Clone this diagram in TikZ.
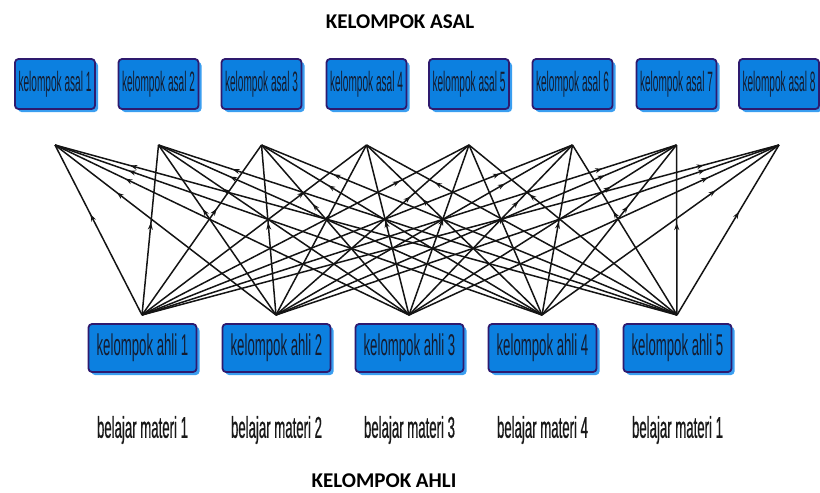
\documentclass[tikz,border=0pt]{standalone}
\usepackage{fontspec}
\usetikzlibrary{arrows.meta,decorations.markings,shadows}
\setmainfont{Carlito}
\newfontfamily\narrowA[FakeStretch=0.36]{Liberation Sans}
\newfontfamily\narrowB[FakeStretch=0.44]{Liberation Sans}
\newfontfamily\narrowC[FakeStretch=0.44,FakeBold=0.6]{Liberation Sans}
\definecolor{boxblue}{HTML}{0C80E0}
\definecolor{boxedge}{HTML}{2E1A6E}
\definecolor{shadowblue}{HTML}{3A9EF0}
\definecolor{boxtext}{HTML}{141C30}
\definecolor{linkcol}{HTML}{141414}
\tikzset{
  asalbox/.style={draw=boxedge, line width=1.8pt, fill=boxblue, rounded corners=3.5pt,
    minimum width=80pt, minimum height=50pt, inner sep=0pt, text=boxtext,
    font=\narrowA\fontsize{28}{28}\selectfont,
    drop shadow={shadow xshift=3pt, shadow yshift=-3pt, fill=shadowblue, opacity=1}},
  ahlibox/.style={draw=boxedge, line width=1.8pt, fill=boxblue, rounded corners=3.5pt,
    minimum width=108pt, minimum height=48pt, inner sep=0pt, text=boxtext,
    font=\narrowB\fontsize{30}{30}\selectfont,
    drop shadow={shadow xshift=3pt, shadow yshift=-3pt, fill=shadowblue, opacity=1}},
  materi/.style={text=black!90, font=\narrowC\fontsize{30}{30}\selectfont},
  title/.style={font=\bfseries\fontsize{21}{21}\selectfont, text=black},
  link/.style={draw=linkcol, line width=1.5pt,
    postaction={decorate, decoration={markings,
      mark=at position -78pt with {\arrow{Stealth[length=7pt,width=5pt]}}}}},
}
\begin{document}
\begin{tikzpicture}[x=1pt,y=-1pt]
\useasboundingbox (0,0) rectangle (820,493);
\node[title] (t1) at (400,22) {KELOMPOK ASAL};
\node[title] (t2) at (384,481) {KELOMPOK AHLI};
% top boxes
\foreach \i/\x in {1/55,2/158.5,3/261.5,4/366.5,5/469,6/572.5,7/676.5,8/779}{
  \node[asalbox] (a\i) at (\x,84) {kelompok asal \i};
  \coordinate (p\i) at (\x,145);
}
% bottom boxes
\foreach \j/\x in {1/142.5,2/276.5,3/409.5,4/542.5,5/677.5}{
  \node[ahlibox] (h\j) at (\x,348) {kelompok ahli \j};
  \coordinate (q\j) at (\x-0.5,315);
}
\node[materi] (m1) at (142.5,430) {belajar materi 1};
\node[materi] (m2) at (276.5,430) {belajar materi 2};
\node[materi] (m3) at (409.5,430) {belajar materi 3};
\node[materi] (m4) at (542.5,430) {belajar materi 4};
\node[materi] (m5) at (677.5,430) {belajar materi 1};
% links
\foreach \i in {1,...,8}{
  \foreach \j in {1,...,5}{
    \draw[link] (q\j) -- (p\i);
  }
}
\end{tikzpicture}
\end{document}
